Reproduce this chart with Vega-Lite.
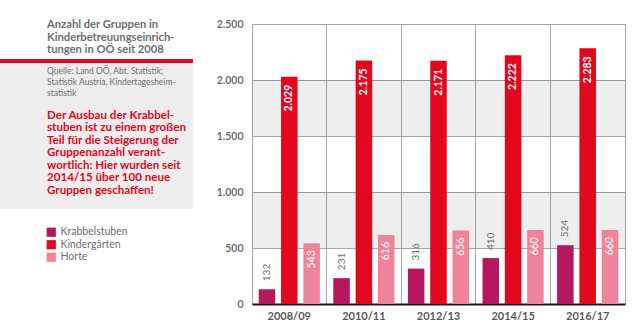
{
  "$schema": "https://vega.github.io/schema/vega-lite/v6.json",
  "padding": {"left": 0, "top": 18, "right": 15, "bottom": 10},
  "background": "white",
  "bounds": "flush",
  "spacing": 59,
  "config": {
    "font": "Lato",
    "locale": {"number": {"decimal": ",", "thousands": ".", "grouping": [3], "currency": ["", " €"]}},
    "view": {"stroke": null}
  },
  "datasets": {
    "gruppen": [
      {"jahr": "2008/09", "art": "Krabbelstuben", "anzahl": 132},
      {"jahr": "2008/09", "art": "Kindergärten", "anzahl": 2029},
      {"jahr": "2008/09", "art": "Horte", "anzahl": 543},
      {"jahr": "2010/11", "art": "Krabbelstuben", "anzahl": 231},
      {"jahr": "2010/11", "art": "Kindergärten", "anzahl": 2175},
      {"jahr": "2010/11", "art": "Horte", "anzahl": 616},
      {"jahr": "2012/13", "art": "Krabbelstuben", "anzahl": 316},
      {"jahr": "2012/13", "art": "Kindergärten", "anzahl": 2171},
      {"jahr": "2012/13", "art": "Horte", "anzahl": 656},
      {"jahr": "2014/15", "art": "Krabbelstuben", "anzahl": 410},
      {"jahr": "2014/15", "art": "Kindergärten", "anzahl": 2222},
      {"jahr": "2014/15", "art": "Horte", "anzahl": 660},
      {"jahr": "2016/17", "art": "Krabbelstuben", "anzahl": 524},
      {"jahr": "2016/17", "art": "Kindergärten", "anzahl": 2283},
      {"jahr": "2016/17", "art": "Horte", "anzahl": 660}
    ],
    "baender": [
      {"von": 500, "bis": 1000},
      {"von": 1500, "bis": 2000}
    ]
  },
  "hconcat": [
    {
      "width": 193,
      "height": 280,
      "data": {"values": [{}]},
      "layer": [
        {"mark": {"type": "rect", "x": 0, "x2": 193, "y": 39, "y2": 185, "color": "#ededed"}},
        {"mark": {"type": "rect", "x": 0, "x2": 193, "y": 35, "y2": 39, "color": "#e2071e"}},
        {"mark": {"type": "text", "x": 47, "y": 4.3, "align": "left", "baseline": "alphabetic", "fontSize": 11.2, "fontWeight": "bold", "lineHeight": 12.4, "color": "#6d6e71",
          "text": ["Anzahl der Gruppen in", "Kinderbetreuungseinrich-", "tungen in OÖ seit 2008"]}},
        {"mark": {"type": "text", "x": 47, "y": 50, "align": "left", "baseline": "alphabetic", "fontSize": 8.5, "lineHeight": 10.8, "color": "#6d6e71",
          "text": ["Quelle: Land OÖ, Abt. Statistik;", "Statistik Austria, Kindertagesheim-", "statistik"]}},
        {"mark": {"type": "text", "x": 47, "y": 94.5, "align": "left", "baseline": "alphabetic", "fontSize": 11.6, "fontWeight": "bold", "lineHeight": 12.5, "color": "#e2071e",
          "text": ["Der Ausbau der Krabbel-", "stuben ist zu einem großen", "Teil für die Steigerung der", "Gruppenanzahl verant-", "wortlich: Hier wurden seit", "2014/15 über 100 neue", "Gruppen geschaffen!"]}}
      ]
    },
    {
      "width": 373,
      "height": 280,
      "view": {"stroke": "#a6a6a6"},
      "data": {"name": "gruppen"},
      "encoding": {
        "x": {"field": "jahr", "type": "nominal", "title": null,
          "scale": {"paddingInner": 0, "paddingOuter": 0},
          "axis": {"labelAngle": 0, "labelFontSize": 11, "labelFontWeight": "bold", "labelColor": "#58595b", "labelPadding": 6,
            "domainColor": "#1a1a1a", "domainWidth": 2, "ticks": false,
            "grid": true, "bandPosition": 0, "gridColor": "#a6a6a6", "gridWidth": 1}},
        "xOffset": {"field": "art", "type": "nominal", "sort": ["Krabbelstuben", "Kindergärten", "Horte"],
          "scale": {"domain": ["Krabbelstuben", "Kindergärten", "Horte"], "paddingInner": 0.26, "paddingOuter": 0.3}},
        "y": {"field": "anzahl", "type": "quantitative", "title": null,
          "scale": {"domain": [0, 2500], "nice": false},
          "axis": {"values": [0, 500, 1000, 1500, 2000, 2500], "format": ",d", "labelFontSize": 10.5, "labelFontWeight": "bold", "labelColor": "#6d6e71",
            "labelPadding": 9, "domain": false, "ticks": false, "grid": true, "gridColor": "#a6a6a6", "gridWidth": 1}}
      },
      "layer": [
        {
          "data": {"name": "baender"},
          "mark": {"type": "rect", "color": "#000000", "opacity": 0.065},
          "encoding": {
            "x": null, "xOffset": null,
            "y": {"field": "von", "type": "quantitative"},
            "y2": {"field": "bis"}
          }
        },
        {
          "mark": {"type": "bar"},
          "encoding": {
            "color": {"field": "art", "type": "nominal",
              "scale": {"domain": ["Krabbelstuben", "Kindergärten", "Horte"], "range": ["#b5185f", "#e2071e", "#ef8399"]},
              "legend": {"title": null, "orient": "none", "legendX": 46, "legendY": 203, "symbolType": "square", "symbolSize": 85,
                "symbolStrokeWidth": 0, "labelFontSize": 10.5, "labelColor": "#6d6e71", "rowPadding": 1.5, "labelOffset": 4}}
          }
        },
        {
          "transform": [{"filter": "datum.art === 'Krabbelstuben'"}],
          "mark": {"type": "text", "angle": 270, "align": "left", "baseline": "middle", "dx": 8, "fontSize": 10, "color": "#6d6e71"},
          "encoding": {"text": {"field": "anzahl", "type": "quantitative", "format": ",d"}}
        },
        {
          "transform": [{"filter": "datum.art === 'Kindergärten'"}],
          "mark": {"type": "text", "angle": 270, "align": "right", "baseline": "middle", "dx": -8, "fontSize": 10.5, "fontWeight": "bold", "color": "white"},
          "encoding": {"text": {"field": "anzahl", "type": "quantitative", "format": ",d"}}
        },
        {
          "transform": [{"filter": "datum.art === 'Horte'"}],
          "mark": {"type": "text", "angle": 270, "align": "right", "baseline": "middle", "dx": -7, "fontSize": 10.5, "color": "white"},
          "encoding": {"text": {"field": "anzahl", "type": "quantitative", "format": ",d"}}
        }
      ]
    }
  ]
}
